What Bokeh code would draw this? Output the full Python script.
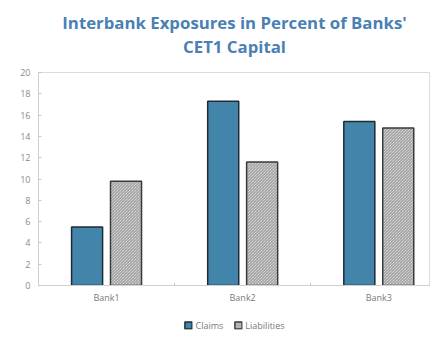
from bokeh.plotting import figure
from bokeh.layouts import column
from bokeh.models import ColumnDataSource, Range1d, FixedTicker, Legend, LegendItem
from bokeh.core.properties import value
from bokeh.transform import dodge
from bokeh.embed import file_html
from bokeh.resources import INLINE

# ---- data ----
banks = ["Bank1", "Bank2", "Bank3"]
claims = [5.5, 17.3, 15.4]
liabilities = [9.8, 11.6, 14.8]
y_ticks = [0, 2, 4, 6, 8, 10, 12, 14, 16, 18, 20]
title_lines = ["Interbank Exposures in Percent of Banks'", "CET1 Capital"]
series_names = ["Claims", "Liabilities"]

pos = list(range(len(banks)))
src = ColumnDataSource(dict(pos=pos, bank=banks, claims=claims, liabilities=liabilities))

FONT = "Open Sans"
TITLE_COLOR = "#4a80b4"
BLUE = "#4384ab"
bw = 0.228
off = 0.143
claims_style = dict(fill_color=BLUE, line_color="#1e2b33", line_width=1.5)
liab_style = dict(fill_color="#eeeeee", line_color="#3a3a3a", line_width=1.5,
                  hatch_pattern="left_diagonal_line", hatch_color="#7a7a7a",
                  hatch_scale=3.0, hatch_weight=0.8)

# ---- title strip (frame aligned with the chart frame below) ----
t = figure(frame_width=392, frame_height=62, output_backend="svg", toolbar_location=None,
           x_range=Range1d(38, 430), y_range=Range1d(62, 0),
           x_axis_location=None, y_axis_location=None,
           min_border_left=38, min_border_right=0, min_border_top=0,
           min_border_bottom=0, outline_line_color=None)
t.grid.visible = False
t.title.visible = False
t.text(x=[234, 234], y=[22, 46], text=title_lines, text_align="center",
       text_baseline="middle", text_font=value(FONT), text_font_size="16.8px",
       text_font_style="bold", text_color=TITLE_COLOR)

# ---- main chart ----
p = figure(frame_width=392, frame_height=213, output_backend="svg", toolbar_location=None,
           x_range=Range1d(-0.5, 2.38), y_range=Range1d(0, 20),
           min_border_left=38, min_border_right=0, min_border_top=10,
           min_border_bottom=25)
p.title.visible = False

r1 = p.vbar(x=dodge("pos", -off), top="claims", width=bw, source=src, **claims_style)
r2 = p.vbar(x=dodge("pos", off), top="liabilities", width=bw, source=src, **liab_style)

p.grid.visible = False
p.outline_line_color = "#dcdcdc"

p.yaxis.ticker = FixedTicker(ticks=y_ticks)
p.yaxis.axis_line_color = "#d0d0d0"
p.yaxis.major_tick_in = 3
p.yaxis.major_tick_out = 0
p.yaxis.major_tick_line_color = "#c8c8c8"
p.yaxis.minor_tick_line_color = None
p.yaxis.major_label_text_font = FONT
p.yaxis.major_label_text_font_size = "9px"
p.yaxis.major_label_text_color = "#8a8a8a"
p.yaxis.major_label_standoff = 8

p.xaxis.ticker = FixedTicker(ticks=pos, minor_ticks=[0.5, 1.5])
p.xaxis.major_label_overrides = {i: b for i, b in zip(pos, banks)}
p.xaxis.axis_line_color = "#d0d0d0"
p.xaxis.major_tick_in = 0
p.xaxis.major_tick_out = 0
p.xaxis.minor_tick_in = 3
p.xaxis.minor_tick_out = 0
p.xaxis.minor_tick_line_color = "#c8c8c8"
p.xaxis.major_label_text_font = FONT
p.xaxis.major_label_text_font_size = "9px"
p.xaxis.major_label_text_color = "#7a7a7a"
p.xaxis.major_label_standoff = 5

# ---- legend strip ----
lg = figure(frame_width=392, frame_height=30, output_backend="svg", toolbar_location=None,
            x_range=Range1d(-0.5, 2.38), y_range=Range1d(100, 101),
            min_border_left=38, min_border_right=0, min_border_top=0,
            min_border_bottom=0, outline_line_color=None)
lg.axis.visible = False
lg.grid.visible = False
lg.title.visible = False
k1 = lg.vbar(x=dodge("pos", -off), top="claims", width=bw, source=src, **claims_style)
k2 = lg.vbar(x=dodge("pos", off), top="liabilities", width=bw, source=src, **liab_style)
legend = Legend(items=[LegendItem(label=series_names[0], renderers=[k1]),
                       LegendItem(label=series_names[1], renderers=[k2])],
                orientation="horizontal", location="center",
                glyph_width=9, glyph_height=9, label_standoff=3, spacing=10,
                padding=0, margin=0, border_line_color=None, background_fill_alpha=0,
                label_text_font=FONT, label_text_font_size="9px",
                label_text_color="#7a7a7a", label_height=9)
lg.add_layout(legend, "center")

layout = column(t, p, lg, spacing=0)
open("out.html", "w").write(file_html(layout, INLINE))
